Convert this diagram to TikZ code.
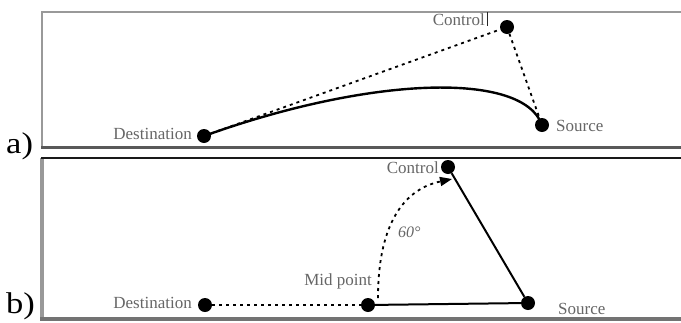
\documentclass[tikz,border=0pt]{standalone}
\usepackage{fontspec}
\setmainfont{Liberation Serif}
\usetikzlibrary{arrows.meta}
\begin{document}
\begin{tikzpicture}[x=1pt,y=-1pt,
  dot/.style={circle,fill=black,inner sep=0pt,minimum size=14pt},
  lbl/.style={font=\fontsize{17}{17}\selectfont,text=black!60,inner sep=0pt},
  dotline/.style={line width=1.8pt,dash pattern=on 3pt off 4pt},
  solidline/.style={line width=2pt},
  panel/.style={font=\fontsize{30}{30}\selectfont,inner sep=0pt}]
\useasboundingbox (0,0) rectangle (681,322);
% frames
\draw[black!40,line width=1.5pt] (690,12) -- (42,12) -- (42,147);
\draw[black!65,line width=3pt] (41,147) -- (690,147);
\draw[black!40,line width=3.5pt] (42,158) -- (42,319);
\draw[black!90,line width=2pt] (41,158) -- (690,158);
\draw[black!55,line width=4pt] (40,319) -- (690,319);
% panel labels
\node[panel,anchor=base west] (pa) at (6,153) {\scalebox{1.15}[1]{a)}};
\node[panel,anchor=base west] (pb) at (6,313) {\scalebox{1.15}[1]{b)}};
% ---- panel a ----
\node[dot] (Da) at (204,136) {};
\node[dot] (Ca) at (507,27) {};
\node[dot] (Sa) at (542,125) {};
\node[lbl,anchor=base east] (lDa) at (192,139) {Destination};
\node[lbl,anchor=base east] (lCa) at (485,25) {Control};
\node[lbl,anchor=base west] (lSa) at (556,131) {Source};
\draw[black!85,line width=1.5pt] (lCa.north east) ++(2.5,-1) -- ++(0,14);
\draw[dotline] (Da) -- (Ca);
\draw[dotline] (Ca) -- (Sa);
\draw[line width=2.4pt] (Da.center) .. controls (371,76) and (523,71) .. (Sa.center);
% ---- panel b ----
\node[dot] (Db) at (205,305) {};
\node[dot] (Mb) at (368,305) {};
\node[dot] (Sb) at (528,303) {};
\node[dot] (Cb) at (448,167) {};
\node[lbl,anchor=base east] (lDb) at (192,308) {Destination};
\node[lbl,anchor=base east] (lMb) at (372,285) {Mid point};
\node[lbl,anchor=base west] (lSb) at (558,314) {Source};
\node[lbl,anchor=base east] (lCb) at (439,173) {Control};
\node[lbl,anchor=base west,font=\fontsize{16}{16}\selectfont\itshape] (ang) at (398,237) {60°};
\draw[dotline] (Db) -- (Mb);
\draw[solidline] (Mb) -- (Sb);
\draw[solidline] (Sb) -- (Cb);
\coordinate (arcA) at (378,298);
\coordinate (arcB) at (452,179);
\draw[dotline,-{Triangle[length=12pt,width=9pt]}] (arcA) .. controls (378,230) and (400,190) .. (arcB);
\end{tikzpicture}
\end{document}
